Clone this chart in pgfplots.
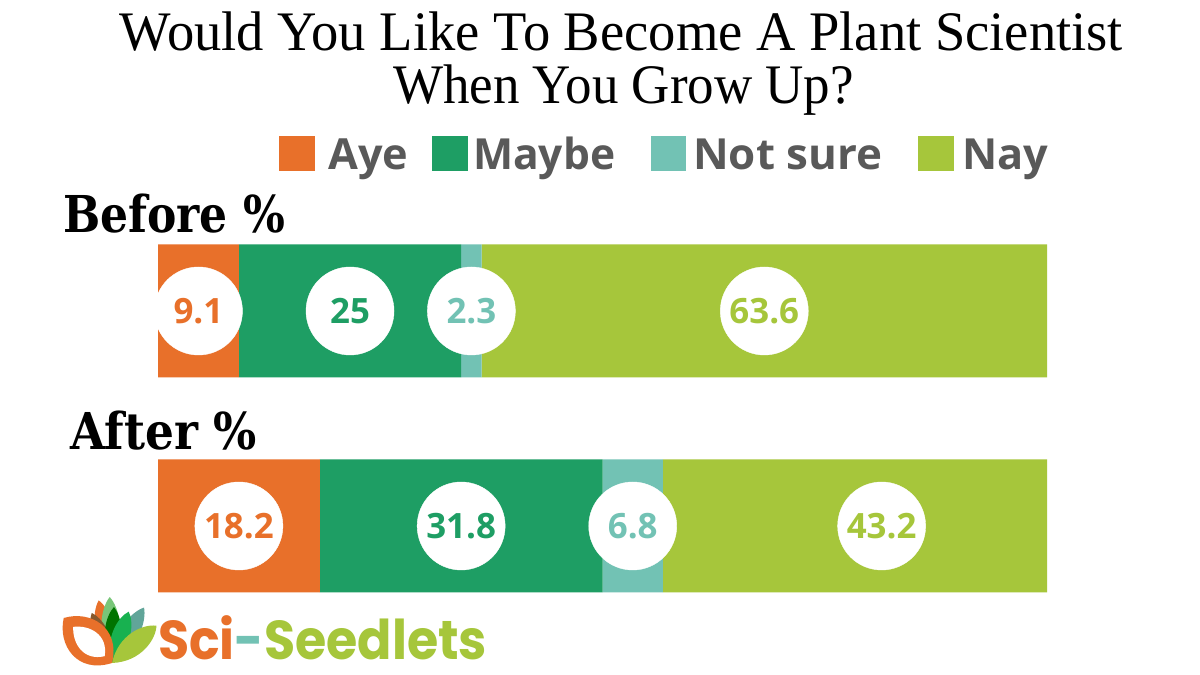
\documentclass[border=0pt]{standalone}
\usepackage{pgfplots}
\pgfplotsset{compat=1.18}
\usepackage{pgfplotstable}
\usepackage{graphicx}
\usepackage{fontspec}
\setmainfont{Liberation Serif}
\newfontfamily\titlefont{Liberation Serif}
\newfontfamily\sansfont{Open Sans}
\newfontfamily\slabfont{DejaVu Serif}
\newfontfamily\logofont{Poppins}

\definecolor{cAye}{HTML}{E8702A}
\definecolor{cMaybe}{HTML}{1E9E64}
\definecolor{cNot}{HTML}{72C2B4}
\definecolor{cNay}{HTML}{A6C63B}
\definecolor{legtext}{HTML}{595959}

% stretch a piece of text to a given width, keeping its height
\newcommand{\fitw}[2]{\resizebox{#1}{\height}{#2}}
\newcommand{\numstyle}{\sansfont\bfseries\fontsize{35}{35}\selectfont}
\newcommand{\legstyle}{\sansfont\bfseries\fontsize{43}{43}\selectfont\color{legtext}}

% shares in percent, one row per survey (y = row position on the page)
\pgfplotstableread{
y    aye   maybe  notsure  nay
364  9.1   25     2.3      63.6
149  18.2  31.8   6.8      43.2
}\shares

% position of each value badge along the bar
\pgfplotstableread{
y    pos    val
364  4.55   9.1
149  9.1    18.2
}\ayelab
\pgfplotstableread{
y    pos    val
364  21.6   25
149  34.1   31.8
}\maybelab
\pgfplotstableread{
y    pos    val
364  35.25  2.3
149  53.4   6.8
}\notlab
\pgfplotstableread{
y    pos    val
364  68.2   63.6
149  81.4   43.2
}\naylab

\pgfplotsset{
  frame/.style={scale only axis, width=889bp, height=675bp,
    xmin=0, xmax=100, ymin=0, ymax=675, hide axis, clip=false,
    at={(158bp,0bp)}, anchor=south west},
  badge/.style={white, only marks, mark=*, mark size=44bp,
    mark options={fill=white, draw=white},
    nodes near coords, point meta=explicit symbolic,
    nodes near coords align=center,
    every node near coord/.append style={anchor=center, font=\numstyle, text=#1}},
}

\newcommand{\petal}[4]{% angle, length, half-width, colour
  \begin{scope}[shift={(112,12)}, rotate=#1-90]
    \fill[#4] (0,0) .. controls (-#3,0.4*#2) and (-0.55*#3,0.85*#2) .. (0,#2)
      .. controls (0.55*#3,0.85*#2) and (#3,0.4*#2) .. (0,0) -- cycle;
  \end{scope}}

\begin{document}
\begin{tikzpicture}
\fill[white] (0,0) rectangle (1200bp,675bp);

% stacked bars
\begin{axis}[frame, xbar stacked, bar width=133bp]
  \addplot[fill=cAye, draw=none] table[x=aye, y=y] {\shares};
  \addplot[fill=cMaybe, draw=none] table[x=maybe, y=y] {\shares};
  \addplot[fill=cNot, draw=none] table[x=notsure, y=y] {\shares};
  \addplot[fill=cNay, draw=none] table[x=nay, y=y] {\shares};
\end{axis}

% white value badges
\begin{axis}[frame]
  \addplot[badge=cAye] table[x=pos, y=y, meta=val] {\ayelab};
  \addplot[badge=cMaybe] table[x=pos, y=y, meta=val] {\maybelab};
  \addplot[badge=cNot] table[x=pos, y=y, meta=val] {\notlab};
  \addplot[badge=cNay] table[x=pos, y=y, meta=val] {\naylab};
\end{axis}

\begin{scope}[x=1bp, y=1bp]
  % title
  \node[anchor=base, inner sep=0] at (621.5,624)
    {\fitw{1003bp}{\titlefont\fontsize{56}{56}\selectfont Would You Like To Become A Plant Scientist}};
  \node[anchor=base, inner sep=0] at (623.5,571)
    {\fitw{461bp}{\titlefont\fontsize{56}{56}\selectfont When You Grow Up?}};

  % legend
  \fill[cAye]   (279,504) rectangle (315,539);
  \fill[cMaybe] (432,504) rectangle (468,539);
  \fill[cNot]   (651,504) rectangle (686,539);
  \fill[cNay]   (918,504) rectangle (954,539);
  \node[anchor=base west, inner sep=0] at (328,505) {\fitw{80bp}{\legstyle Aye}};
  \node[anchor=base west, inner sep=0] at (473,505) {\fitw{142bp}{\legstyle Maybe}};
  \node[anchor=base west, inner sep=0] at (693,505) {\fitw{189bp}{\legstyle Not sure}};
  \node[anchor=base west, inner sep=0] at (962,505) {\fitw{86bp}{\legstyle Nay}};

  % row headings
  \node[anchor=base west, inner sep=0] at (63,442)
    {\fitw{222bp}{\slabfont\bfseries\fontsize{51}{51}\selectfont Before \%}};
  \node[anchor=base west, inner sep=0] at (70,226)
    {\fitw{187bp}{\slabfont\bfseries\fontsize{51}{51}\selectfont After \%}};

  % logo mark
  \petal{102}{64}{16}{cAye}
  \petal{92}{66}{16}{green!40!gray!75!white}
  \petal{60}{64}{16}{cNot!85!black}
  \petal{112}{54}{14}{brown!70!black}
  \petal{88}{56}{14}{green!45!black}
  \petal{72}{54}{15}{cMaybe!80!green}
  \petal{40}{58}{18}{cNay}
  \begin{scope}[shift={(112,12)}, rotate=47]
    \fill[cAye] (0,0) .. controls (-32,18) and (-24,52) .. (0,66)
      .. controls (24,52) and (32,18) .. (0,0) -- cycle;
    \fill[white] (0,10) .. controls (-18,22) and (-13,42) .. (0,53)
      .. controls (13,42) and (18,22) .. (0,10) -- cycle;
  \end{scope}
  \node[anchor=base west, inner sep=0] at (158,16)
    {\fitw{329bp}{\logofont\bfseries\fontsize{55}{55}\selectfont
      \textcolor{cAye}{Sci}\textcolor{cNot}{-}\textcolor{cNay}{Seedlets}}};
\end{scope}
\end{tikzpicture}
\end{document}
